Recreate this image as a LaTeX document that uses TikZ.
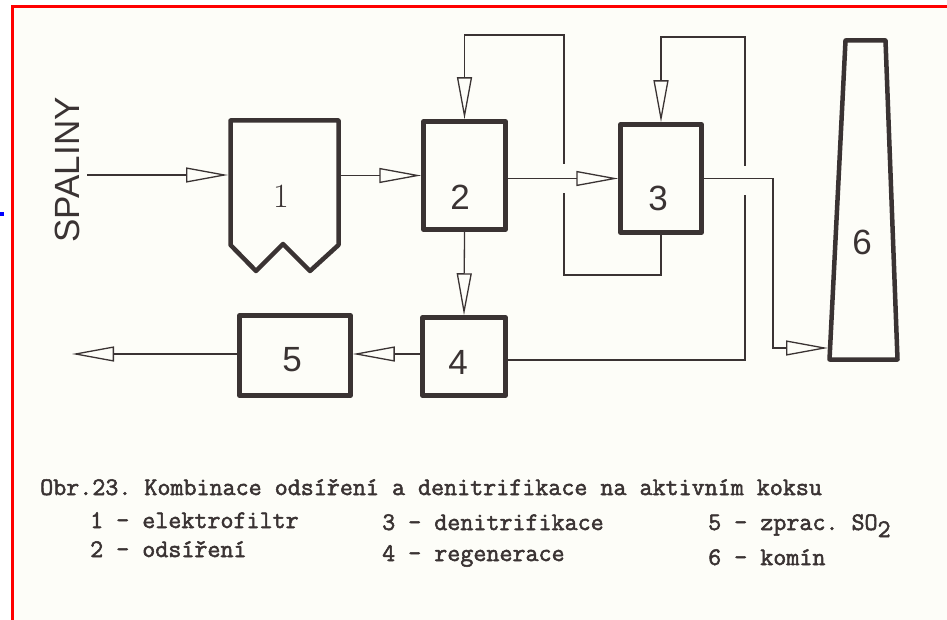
\documentclass[tikz,border=0pt]{standalone}
\usepackage{fontspec}
\newfontfamily\plotfont{Liberation Sans}
\newfontfamily\capfont{Latin Modern Mono}[FakeBold=2]
\usetikzlibrary{arrows.meta,calc}
\definecolor{ink}{HTML}{3A3333}
\definecolor{paper}{HTML}{FDFDF8}
\begin{document}
\frenchspacing
\begin{tikzpicture}[x=1pt,y=-1pt,
  flow/.style={draw=ink, line width=1.3pt},
  arr/.style={flow, -{Triangle[open,length=42pt,width=15pt]}},
  box/.style={draw=ink, line width=4.5pt, line join=round, inner sep=0pt},
  digit/.style={inner sep=0pt, text=ink, font=\plotfont\fontsize{35}{35}\selectfont},
  captxt/.style={anchor=base west, inner sep=0pt, text=ink, font=\capfont\bfseries\fontsize{25.3}{25.3}\selectfont}]
\useasboundingbox (0,0) rectangle (947,620);
\fill[white] (0,0) rectangle (947,620);
\fill[paper] (12,7) rectangle (947,620);
\draw[red, line width=3pt] (12,620) -- (12,7) -- (947,7);
\fill[blue] (0,212) rectangle (4,216);

% box 1 (electrofilter) outline and anchor node
\node[inner sep=0pt, outer sep=0pt, minimum width=113pt, minimum height=129pt] (n1) at (284.5,182.5) {};
\draw[ink, line width=4.5pt, line join=round] (230.5,120.5) -- (338.5,120.5) -- (338.5,245) -- (310,271) -- (283,244) -- (256,271) -- (230.5,245) -- cycle;
\node[inner sep=0pt, text=ink, font=\fontsize{34}{34}\selectfont] (t1) at (281,196) {1};

% boxes
\node[box, minimum width=82pt, minimum height=108pt] (n2) at (464.5,175.5) {};
\node[box, minimum width=81pt, minimum height=108pt] (n3) at (661,178.5) {};
\node[box, minimum width=83pt, minimum height=78pt] (n4) at (464,356.5) {};
\node[box, minimum width=111pt, minimum height=80pt] (n5) at (295,355.5) {};
\node[digit] (t2) at (460,197) {2};
\node[digit] (t3) at (658,198) {3};
\node[digit] (t4) at (458,362) {4};
\node[digit] (t5) at (292,360) {5};

% chimney
\draw[ink, line width=4.5pt, line join=round] (845.5,40.5) -- (885.5,40.5) -- (897.5,359.5) -- (829.5,359.5) -- cycle;
\node[digit] (t6) at (862,242) {6};
\coordinate (k6) at (828,348);

% input label
\node[digit, rotate=90] (spal) at (67,170) {SPALINY};
\coordinate (src) at (87,175);
\coordinate (out5) at (72,354);

% main flow
\draw[arr] (src) -- (src -| n1.west);
\draw[arr] (n1.east |- n2.west) -- (n2.west);
\draw[arr] (n2.east |- n3.west) -- (n3.west);
\draw[arr] (n2.south) -- (n4.north);
\draw[arr] (n4.west |- 0,354) -- (n5.east |- 0,354);
\draw[arr] (n5.west |- out5) -- (out5);

% loop around box 2 (from box 3 bottom)
\coordinate (l2bot) at (564,275);
\coordinate (l2a) at (564,193);
\coordinate (l2b) at (564,164);
\coordinate (l2top) at (564,35);
\draw[flow] (n3.south) |- (l2bot) -- (l2a);
\draw[arr] (l2b) -- (l2top) -| (n2.north);

% loop around box 3 (from box 4 right)
\coordinate (l3bot) at (745,360);
\coordinate (l3a) at (745,195);
\coordinate (l3b) at (745,166);
\coordinate (l3top) at (745,37);
\draw[flow] (n4.east |- l3bot) -- (l3bot) -- (l3a);
\draw[arr] (l3b) -- (l3top) -| (n3.north);

% box 3 to chimney
\coordinate (j3) at (773,348);
\draw[arr] (n3.east) -| (j3) -- (k6);

% caption
\node[captxt] (c0) at (40,495) {Obr.23. Kombinace odsíření a denitrifikace na aktivním koksu};
\node[captxt] (c1) at (90,528) {1 - elektrofiltr};
\node[captxt] (c3) at (382,530) {3 - denitrifikace};
\node[captxt] (c5) at (708,530) {5 - zprac. SO\raisebox{-7pt}{2}};
\node[captxt] (c2) at (90,557) {2 - odsíření};
\node[captxt] (c4) at (382,561) {4 - regenerace};
\node[captxt] (c6) at (708,565) {6 - komín};
\end{tikzpicture}
\end{document}
